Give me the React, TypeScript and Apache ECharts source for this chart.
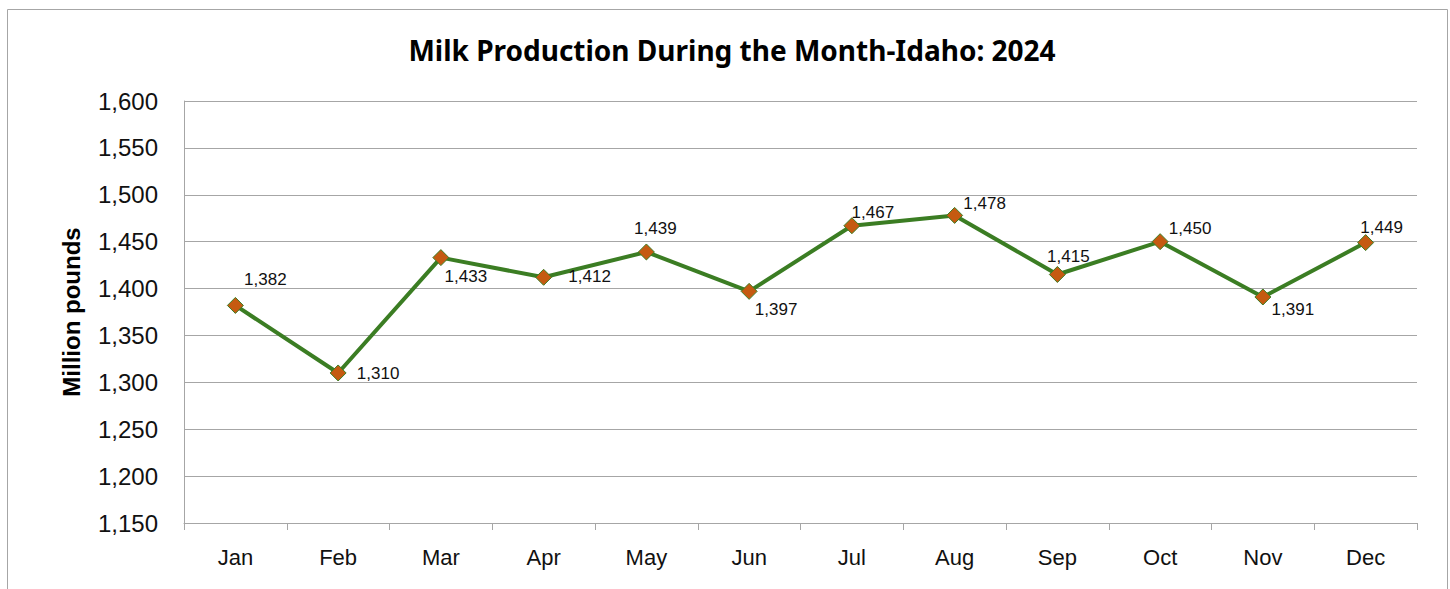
import React, { useEffect, useRef } from "react";
import * as echarts from "echarts";

const months = ["Jan", "Feb", "Mar", "Apr", "May", "Jun", "Jul", "Aug", "Sep", "Oct", "Nov", "Dec"];
const production = [1382, 1310, 1433, 1412, 1439, 1397, 1467, 1478, 1415, 1450, 1391, 1449];
const labelOffsets: [number, number][] = [
  [30, -26], [40, 1], [25, 19], [46, -1], [9, -23], [27, 18],
  [21, -13], [30, -12], [11, -18], [30, -13], [30, 13], [16, -15],
];

export default function App() {
  const ref = useRef<HTMLDivElement>(null);
  useEffect(() => {
    if (!ref.current) return;
    const chart = echarts.init(ref.current, undefined, { renderer: "svg" });
    const font = "'Liberation Sans', Arial, sans-serif";
    chart.setOption({
      animation: false,
      backgroundColor: "#ffffff",
      textStyle: { fontFamily: font },
      title: {
        text: "Milk Production During the Month-Idaho: 2024",
        left: 727,
        textAlign: "center",
        top: 31,
        textStyle: { fontFamily: "'Noto Sans', sans-serif", fontWeight: "bold", fontSize: 28, color: "#000" },
      },
      graphic: [
        {
          type: "rect",
          shape: { x: 7.5, y: 9.5, width: 1440, height: 620 },
          style: { fill: "none", stroke: "#a6a6a6", lineWidth: 1 },
          silent: true,
        },
      ],
      grid: { left: 184, top: 101, width: 1233, height: 422, containLabel: false },
      xAxis: {
        type: "category",
        data: months,
        boundaryGap: true,
        axisLine: { show: true, lineStyle: { color: "#a6a6a6", width: 1 } },
        axisTick: { show: true, length: 7, lineStyle: { color: "#a6a6a6" }, alignWithLabel: false },
        axisLabel: { fontSize: 22, color: "#111", margin: 23, fontFamily: font },
      },
      yAxis: {
        type: "value",
        min: 1150,
        max: 1600,
        interval: 50,
        name: "Million pounds",
        nameLocation: "middle",
        nameGap: 101,
        nameTextStyle: { fontSize: 24, fontWeight: "bold", color: "#000", fontFamily: font },
        axisLine: { show: true, lineStyle: { color: "#a6a6a6", width: 1 } },
        axisTick: { show: false },
        splitLine: { show: true, lineStyle: { color: "#a6a6a6", width: 1 } },
        axisLabel: {
          fontSize: 24,
          color: "#111",
          margin: 26,
          fontFamily: font,
          formatter: (v: number) => v.toLocaleString("en-US"),
        },
      },
      series: [
        {
          type: "line",
          data: production.map((v, i) => ({
            value: v,
            label: { offset: labelOffsets[i] },
          })),
          lineStyle: { color: "#3b7d23", width: 4 },
          itemStyle: { color: "#c55a11", borderColor: "#3b7d23", borderWidth: 1 },
          symbol: "diamond",
          symbolSize: 16,
          showAllSymbol: true,
          label: {
            show: true,
            position: "inside",
            fontSize: 17,
            color: "#111",
            fontFamily: font,
            formatter: (p: any) => Number(p.value).toLocaleString("en-US"),
          },
        },
      ],
    });
    return () => chart.dispose();
  }, []);
  return (
    <div
      ref={ref}
      style={{ position: "absolute", left: 0, top: 0, width: 1450, height: 589 }}
    />
  );
}
